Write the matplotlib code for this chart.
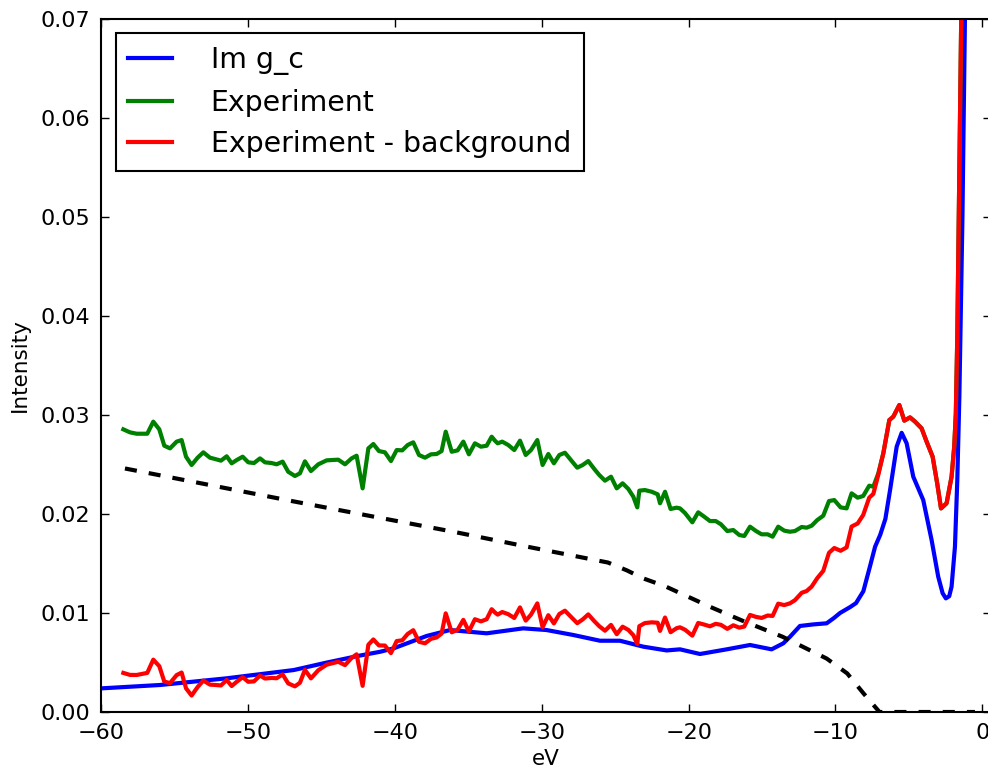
import numpy as np
import matplotlib
matplotlib.use("Agg")
import matplotlib.pyplot as plt
from matplotlib.ticker import FormatStrFormatter, MultipleLocator

# --- donnees ----------------------------------------------------------------

# Spectre experimental (vert), puis la partie ou le fond est nul
exp_x = [-58.51, -58.06, -57.60, -56.88, -56.47, -56.06, -55.72, -55.33, -54.88, -54.54,
         -54.24, -53.86, -53.45, -53.06, -52.61, -52.27, -51.86, -51.47, -51.13, -50.79,
         -50.38, -50.00, -49.61, -49.20, -48.86, -48.41, -48.07, -47.66, -47.28, -46.82,
         -46.48, -46.14, -45.73, -45.23, -44.66, -43.87, -43.41, -42.96, -42.62, -42.21,
         -41.82, -41.48, -41.10, -40.69, -40.28, -39.89, -39.51, -39.14, -38.76, -38.37,
         -37.96, -37.55, -37.17, -36.83, -36.55, -36.14, -35.74, -35.35, -34.97, -34.56,
         -34.15, -33.76, -33.42, -33.19, -33.01, -32.70, -32.29, -31.88, -31.49, -31.10,
         -30.74, -30.31, -29.95, -29.56, -29.18, -28.81, -28.43, -28.02, -27.59, -27.22,
         -26.84, -26.43, -26.09, -25.70, -25.29, -24.90, -24.50, -24.11, -23.77, -23.50,
         -23.36, -22.98, -22.52, -22.11, -21.95, -21.61, -21.23, -20.82, -20.59, -20.25,
         -19.75, -19.35, -18.94, -18.55, -18.16, -17.80, -17.37, -16.96, -16.55, -16.21,
         -15.82, -15.41, -15.03, -14.62, -14.28, -13.90, -13.49, -13.10, -12.76, -12.30,
         -11.96, -11.62, -11.24, -10.83, -10.44, -10.08, -9.65, -9.24, -8.90, -8.49,
         -8.11, -7.70, -7.42, -7.08, -6.74, -6.33, -6.06, -5.65, -5.31, -4.92,
         -4.58, -4.13, -3.79, -3.38, -3.07, -2.81, -2.43, -2.09, -1.91, -1.80,
         -1.70, -1.60, -1.50, -1.40, -1.30]
exp_y = [0.02855, 0.02825, 0.02811, 0.02811, 0.02933, 0.02855, 0.02690, 0.02663, 0.02731, 0.02747,
         0.02579, 0.02495, 0.02569, 0.02623, 0.02569, 0.02556, 0.02539, 0.02583, 0.02512, 0.02545,
         0.02579, 0.02522, 0.02515, 0.02562, 0.02522, 0.02515, 0.02502, 0.02529, 0.02427, 0.02384,
         0.02411, 0.02532, 0.02434, 0.02502, 0.02542, 0.02549, 0.02502, 0.02562, 0.02589, 0.02259,
         0.02663, 0.02707, 0.02636, 0.02623, 0.02535, 0.02646, 0.02643, 0.02697, 0.02724, 0.02596,
         0.02569, 0.02603, 0.02606, 0.02636, 0.02832, 0.02629, 0.02643, 0.02731, 0.02603, 0.02714,
         0.02680, 0.02690, 0.02781, 0.02740, 0.02714, 0.02731, 0.02697, 0.02646, 0.02741, 0.02596,
         0.02646, 0.02747, 0.02495, 0.02606, 0.02512, 0.02596, 0.02619, 0.02545, 0.02468, 0.02495,
         0.02535, 0.02455, 0.02394, 0.02337, 0.02377, 0.02259, 0.02310, 0.02253, 0.02175, 0.02067,
         0.02236, 0.02242, 0.02225, 0.02199, 0.02108, 0.02225, 0.02051, 0.02064, 0.02057, 0.02010,
         0.01916, 0.02017, 0.01973, 0.01929, 0.01929, 0.01896, 0.01828, 0.01838, 0.01788, 0.01778,
         0.01872, 0.01828, 0.01795, 0.01795, 0.01771, 0.01872, 0.01832, 0.01821, 0.01828, 0.01869,
         0.01862, 0.01882, 0.01939, 0.01983, 0.02131, 0.02141, 0.02067, 0.02057, 0.02209, 0.02165,
         0.02182, 0.02286, 0.02276, 0.02411, 0.02613, 0.02949, 0.02983, 0.03101, 0.02943, 0.02976,
         0.02933, 0.02865, 0.02731, 0.02579, 0.02310, 0.02057, 0.02108, 0.02377, 0.02680, 0.03017,
         0.03800, 0.05000, 0.06200, 0.07400, 0.09000]

# Fond (tirets noirs)
bg_x = [-58.4, -47.0, -42.4, -36.0, -31.0, -25.5, -24.2, -23.1, -21.6, -18.5,
        -16.3, -13.6, -10.6, -9.2, -8.1, -7.0, -0.5]
bg_y = [0.0246, 0.0213, 0.0200, 0.0182, 0.0167, 0.0151, 0.0143, 0.0135, 0.0127, 0.0106,
        0.0092, 0.0076, 0.0054, 0.0039, 0.0019, 0.0, 0.0]

# Im g_c (bleu)
img_x = [-60.0, -56.0, -51.5, -46.9, -44.7, -42.4, -41.0, -40.1, -37.85, -36.26,
         -33.76, -31.27, -29.68, -27.86, -26.04, -24.68, -23.09, -21.5, -20.59, -19.23,
         -17.41, -15.82, -14.35, -13.55, -13.1, -12.42, -11.5, -10.6, -10.1, -9.69,
         -9.0, -8.6, -8.1, -7.65, -7.30, -6.95, -6.6, -6.28, -5.83, -5.49,
         -5.15, -4.70, -4.02, -3.45, -3.00, -2.70, -2.48, -2.25, -2.09, -1.86,
         -1.70, -1.56, -1.35, -1.18, -1.05]
img_y = [0.00239, 0.00273, 0.00340, 0.00424, 0.00498, 0.00570, 0.00609, 0.00643, 0.00768, 0.00828,
         0.00795, 0.00845, 0.00828, 0.00778, 0.00720, 0.00720, 0.00660, 0.00622, 0.00633, 0.00586,
         0.00633, 0.00677, 0.00633, 0.00694, 0.00760, 0.00869, 0.00885, 0.00896, 0.00950, 0.01000,
         0.01060, 0.01100, 0.01220, 0.01470, 0.01670, 0.01790, 0.01950, 0.02242, 0.02680, 0.02820,
         0.02714, 0.02377, 0.02141, 0.01737, 0.01367, 0.01200, 0.01148, 0.01170, 0.01266, 0.01670,
         0.02343, 0.03185, 0.05000, 0.07000, 0.09000]

# Experience moins le fond
exp_x = np.array(exp_x)
exp_y = np.array(exp_y)
sub_y = exp_y - np.interp(exp_x, bg_x, bg_y)

# --- figure -----------------------------------------------------------------

fig = plt.figure(figsize=(9.88, 7.73), dpi=100)
ax = fig.add_axes([0.1027, 0.0789, 0.9004, 0.8965])

ax.plot(img_x, img_y, color='b', lw=3, label='Im g_c')
ax.plot(exp_x, exp_y, color='g', lw=3, label='Experiment')
ax.plot(exp_x, sub_y, color='r', lw=3, label='Experiment - background')
ax.plot(bg_x, bg_y, color='k', lw=3, ls=(0, (2.9, 2.9)))

ax.set_xlim(-60, 0.6)
ax.set_ylim(0, 0.07)
ax.xaxis.set_major_locator(MultipleLocator(10))
ax.yaxis.set_major_locator(MultipleLocator(0.01))
ax.yaxis.set_major_formatter(FormatStrFormatter('%.2f'))

ax.tick_params(direction='in', length=6, width=1, labelsize=16,
               top=True, right=True, pad=8)
for sp in ax.spines.values():
    sp.set_linewidth(1.5)

ax.set_xlabel('eV', fontsize=15.5, labelpad=4)
ax.set_ylabel('Intensity', fontsize=15.5, labelpad=8)

leg = ax.legend(loc='upper left', fontsize=20.4, fancybox=False, framealpha=1,
                edgecolor='k', handlelength=1.55, handletextpad=1.35,
                labelspacing=0.48, borderpad=0.45, borderaxespad=0.5)
leg.get_frame().set_linewidth(1.5)

fig.savefig('out.png', dpi=100, facecolor='white')
